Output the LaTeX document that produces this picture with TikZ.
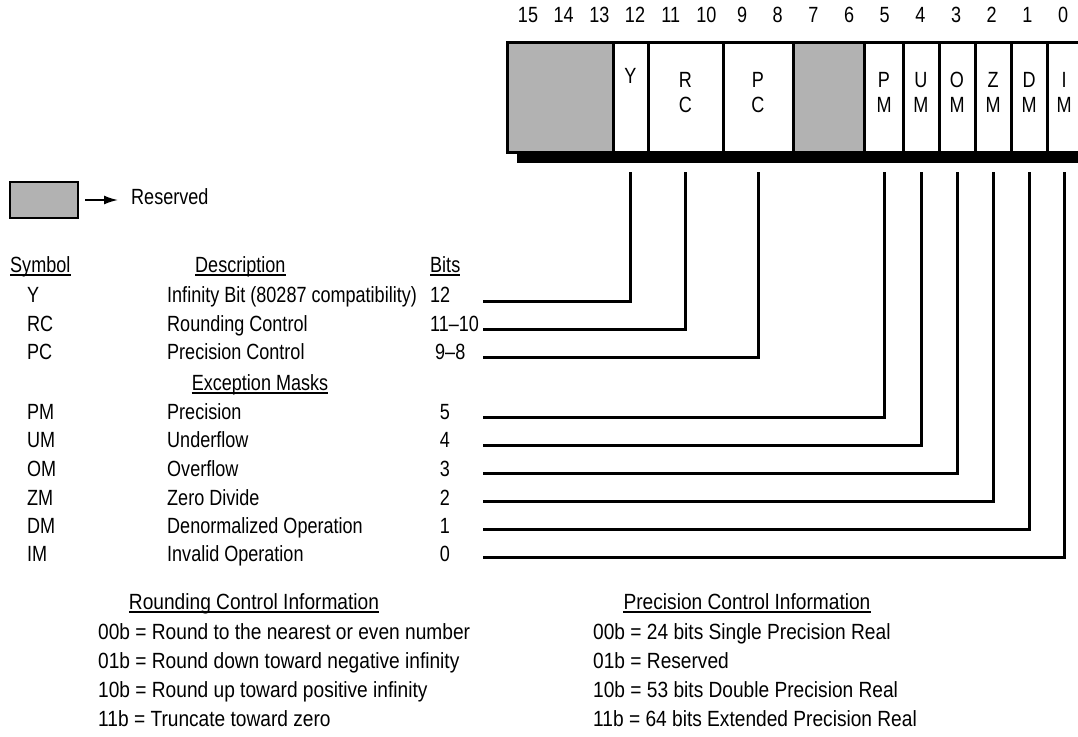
\documentclass[tikz,border=0pt]{standalone}
\usepackage{fontspec}
\setmainfont{Liberation Sans}[FakeStretch=0.82]
\newfontfamily\infofont{Liberation Sans}[FakeStretch=0.87]
\usetikzlibrary{arrows.meta}
\definecolor{resgray}{RGB}{178,178,178}

\tikzset{
    txt/.style={font=\fontsize{22}{25}\selectfont, inner sep=0pt, text height=1.5ex, text depth=.25ex},
    pair/.style={font=\fontsize{22}{25}\selectfont, inner sep=0pt, align=center},
    info/.style={font=\infofont\fontsize{22}{25}\selectfont, inner sep=0pt, text height=1.5ex, text depth=.25ex},
    field/.style={draw, line width=3pt},
    conn/.style={line width=3pt},
    uline/.style={line width=1.8pt}
}

\begin{document}
\begin{tikzpicture}[x=1pt, y=-1pt]
    \useasboundingbox (0,0) rectangle (1078,736);

    % Bit numbers
    \foreach \b [count=\i from 0] in {15,14,...,0}
        \node[txt] (n\b) at (528+35.67*\i,19) {\b};

    % Control word with shadow
    \fill[resgray] (507,42) rectangle (613,152);
    \fill[resgray] (793,42) rectangle (864,152);
    \fill (517,152) rectangle (1090,163);
    \draw[field] (507,42) rectangle (1090,152);
    \foreach \x in {613,648,723,793,864,903,939,975,1011,1047}
        \draw[field] (\x,42) -- (\x,152);

    % Field names
    \node[txt] (fY) at (630.5,80) {Y};
    \foreach \n/\x/\a/\c in {RC/685.5/R/C, PC/758/P/C, PM/884/P/M, UM/921/U/M,
                             OM/957/O/M, ZM/993/Z/M, DM/1029/D/M, IM/1064/I/M}
        \node[pair] (f\n) at (\x,92.5) {\a\\\c};

    % Legend
    \node[draw, fill=resgray, line width=2.7pt, minimum width=68pt, minimum height=36pt, inner sep=0pt] (legbox) at (44,200) {};
    \node[txt, anchor=west] (legtxt) at (131,201) {Reserved};
    \draw[-{Latex[length=14pt,width=9pt]}, line width=1.8pt, shorten <=6pt, shorten >=13pt] (legbox) -- (legbox -| legtxt.west);

    % Table headers
    \node[txt, anchor=west] (hSym) at (10,269) {Symbol};
    \node[txt, anchor=west] (hDesc) at (195,269) {Description};
    \node[txt, anchor=west] (hBits) at (430,269) {Bits};
    \node[txt] (hExc) at (260,387) {Exception Masks};

    % Control bits
    \foreach \s/\d/\b/\y in {Y/{Infinity Bit (80287 compatibility)}/12/299,
                             RC/{Rounding Control}/11--10/328,
                             PC/{Precision Control}/\ 9--8/356} {
        \node[txt, anchor=west] (s\s) at (27,\y) {\s};
        \node[txt, anchor=west] (d\s) at (167,\y) {\d};
        \node[txt, anchor=west] (b\s) at (430,\y) {\b};
    }

    % Exception masks
    \foreach \s/\d/\b/\y in {PM/Precision/5/416, UM/Underflow/4/444, OM/Overflow/3/473,
                             ZM/{Zero Divide}/2/502, DM/{Denormalized Operation}/1/530,
                             IM/{Invalid Operation}/0/558} {
        \node[txt, anchor=west] (s\s) at (27,\y) {\s};
        \node[txt, anchor=west] (d\s) at (167,\y) {\d};
        \node[txt] (b\s) at (445,\y) {\b};
    }

    % Leader lines to the fields
    \coordinate (top) at (0,172);
    \foreach \n/\y in {Y/301, RC/329, PC/357, PM/417, UM/445, OM/473, ZM/501, DM/529, IM/557} {
        \coordinate (l\n) at (483,\y);
        \draw[conn] (l\n) -| (f\n |- top);
    }

    % Rounding and precision control
    \node[info] (hRnd) at (254,606) {Rounding Control Information};
    \node[info] (hPrc) at (747,606) {Precision Control Information};
    \foreach \t [count=\k from 0] in {00b = Round to the nearest or even number,
                                      01b = Round down toward negative infinity,
                                      10b = Round up toward positive infinity,
                                      11b = Truncate toward zero}
        \node[info, anchor=west] (rnd\k) at (98,636+29*\k) {\t};
    \foreach \t [count=\k from 0] in {00b = 24 bits Single Precision Real,
                                      01b = Reserved,
                                      10b = 53 bits Double Precision Real,
                                      11b = 64 bits Extended Precision Real}
        \node[info, anchor=west] (prc\k) at (593,636+29*\k) {\t};

    % Underlines
    \foreach \h in {hSym, hDesc, hBits, hExc, hRnd, hPrc}
        \draw[uline] ([yshift=-2.5pt]\h.base west) -- ([yshift=-2.5pt]\h.base east);

\end{tikzpicture}
\end{document}
